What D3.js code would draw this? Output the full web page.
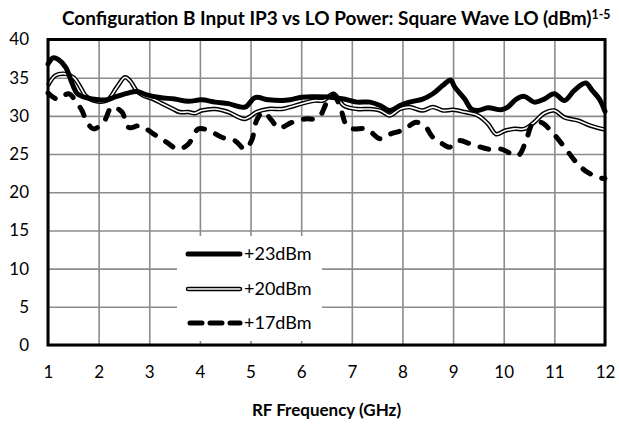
<!DOCTYPE html>
<html><head><meta charset="utf-8">
<script src="https://cdn.jsdelivr.net/npm/d3@7"></script>
<style>
html,body{margin:0;padding:0;background:#fff;}
svg{display:block;}
text{font-family:Lato,"Open Sans",sans-serif;fill:#000;}
</style></head>
<body>
<svg id="chart" width="619" height="424"></svg>
<script>
const titleText = "Configuration B Input IP3 vs LO Power: Square Wave LO (dBm)";
const titleSup = "1-5";
const xTitle = "RF Frequency (GHz)";
const xTicks = [1,2,3,4,5,6,7,8,9,10,11,12];
const yTicks = [0,5,10,15,20,25,30,35,40];
const seriesNames = ["+23dBm","+20dBm","+17dBm"];

const freq23 = [1.0,1.1,1.2,1.35,1.48,1.58,1.77,2.0,2.16,2.29,2.56,2.75,2.95,3.21,3.5,3.77,4.03,4.3,4.56,4.89,5.09,5.35,5.62,5.78,6.01,6.28,6.58,6.84,7.1,7.36,7.56,7.75,7.95,8.14,8.4,8.6,8.8,8.95,9.03,9.23,9.36,9.49,9.69,9.95,10.08,10.25,10.41,10.6,10.8,11.0,11.2,11.39,11.62,11.75,11.89,12.0];
const ip23 = [36.8,37.6,37.4,36.35,34.2,32.9,32.35,32.1,32.1,32.4,32.95,33.2,32.75,32.4,32.2,31.9,32.1,31.8,31.6,31.15,32.4,32.1,32.0,32.1,32.45,32.5,32.45,32.2,31.8,31.8,31.35,30.7,31.35,31.8,32.2,32.9,34.0,34.7,33.8,32.2,30.9,30.7,31.05,30.8,31.15,32.2,32.55,31.8,32.2,32.9,32.0,33.3,34.3,33.3,32.2,30.6];

const freq20 = [1.0,1.15,1.35,1.51,1.64,1.74,1.9,2.16,2.36,2.52,2.62,2.75,2.88,3.08,3.27,3.47,3.6,3.77,3.9,4.03,4.3,4.56,4.89,5.12,5.35,5.62,5.78,6.01,6.28,6.44,6.64,6.84,7.1,7.36,7.56,7.75,7.95,8.14,8.4,8.6,8.8,9.0,9.23,9.49,9.69,9.85,10.02,10.21,10.41,10.6,10.8,11.0,11.2,11.46,11.72,12.0];
const ip20 = [34.0,35.3,35.5,35.0,33.75,32.65,32.0,32.0,33.75,35.05,34.6,33.3,32.65,32.2,31.55,30.9,30.5,30.5,30.35,30.7,30.9,30.5,29.6,30.5,30.9,30.9,31.15,31.6,32.0,32.0,32.9,31.35,30.9,30.9,30.7,30.05,30.9,31.15,30.7,31.15,30.7,30.8,30.5,30.05,28.95,27.6,28.05,28.3,28.3,29.15,30.35,30.7,29.8,29.4,28.7,28.2];

const freq17 = [1.0,1.18,1.41,1.54,1.67,1.77,1.9,2.1,2.26,2.46,2.59,2.82,3.08,3.34,3.57,3.77,3.97,4.17,4.43,4.69,4.89,5.02,5.12,5.25,5.42,5.55,5.82,6.08,6.28,6.38,6.51,6.64,6.77,6.9,7.03,7.29,7.56,7.75,8.01,8.27,8.44,8.6,8.8,8.93,9.1,9.36,9.69,9.95,10.28,10.44,10.57,10.74,10.93,11.2,11.46,11.66,11.89,12.0];
const ip17 = [33.0,32.2,32.9,32.0,30.7,29.2,28.3,29.2,31.15,30.5,28.5,28.7,27.65,26.55,25.65,26.3,28.3,28.1,27.2,26.75,25.65,26.75,29.4,30.5,29.4,28.4,29.15,29.6,29.6,30.05,31.8,32.7,31.15,28.7,28.3,28.3,27.0,27.6,28.15,29.15,28.7,27.2,26.3,25.9,26.75,26.3,25.65,25.65,24.8,26.75,28.95,29.15,28.05,25.9,23.7,22.6,21.9,21.8];

const svg = d3.select("#chart");
const L = 48, R = 605, T = 39.5, B = 345;
const x = d3.scaleLinear().domain([1,12]).range([L,R]);
const y = d3.scaleLinear().domain([0,40]).range([B,T]);

// gridlines
svg.append("g").attr("transform",`translate(0,${B})`)
  .call(d3.axisBottom(x).tickValues(xTicks).tickSize(-(B-T)).tickFormat(""))
  .call(g=>g.select(".domain").remove())
  .call(g=>g.selectAll("line").attr("stroke","#8c8c8c").attr("stroke-width",1.6));
svg.append("g").attr("transform",`translate(${L},0)`)
  .call(d3.axisLeft(y).tickValues(yTicks).tickSize(-(R-L)).tickFormat(""))
  .call(g=>g.select(".domain").remove())
  .call(g=>g.selectAll("line").attr("stroke","#8c8c8c").attr("stroke-width",1.6));

// tick labels
const xAx = svg.append("g").attr("transform",`translate(0,${B})`)
  .call(d3.axisBottom(x).tickValues(xTicks).tickSize(0).tickPadding(21).tickFormat(d3.format("d")));
xAx.select(".domain").remove();
xAx.selectAll("text").attr("font-size",17).attr("font-family","Lato, sans-serif").attr("fill","#000");
const yAx = svg.append("g").attr("transform",`translate(${L},0)`)
  .call(d3.axisLeft(y).tickValues(yTicks).tickSize(0).tickPadding(19).tickFormat(d3.format("d")));
yAx.select(".domain").remove();
yAx.selectAll("text").attr("font-size",17).attr("font-family","Lato, sans-serif").attr("fill","#000");

// series
const line = d3.line().x(d=>x(d[0])).y(d=>y(d[1])).curve(d3.curveCatmullRom.alpha(0.5));
const d23 = d3.zip(freq23, ip23), d20 = d3.zip(freq20, ip20), d17 = d3.zip(freq17, ip17);
const plot = svg.append("g");
plot.append("path").attr("d",line(d20)).attr("fill","none").attr("stroke","#000").attr("stroke-width",4.5).attr("stroke-linejoin","round");
plot.append("path").attr("d",line(d20)).attr("fill","none").attr("stroke","#fff").attr("stroke-width",1.6).attr("stroke-linejoin","round");
plot.append("path").attr("d",line(d23)).attr("fill","none").attr("stroke","#000").attr("stroke-width",5).attr("stroke-linejoin","round").attr("stroke-linecap","round");
plot.append("path").attr("d",line(d17)).attr("fill","none").attr("stroke","#000").attr("stroke-width",5).attr("stroke-dasharray","9,12").attr("stroke-linecap","round");

// frame
svg.append("rect").attr("x",L).attr("y",T).attr("width",R-L).attr("height",B-T)
  .attr("fill","none").attr("stroke","#000").attr("stroke-width",3);

// legend
const lg = svg.append("g");
lg.append("rect").attr("x",177).attr("y",236).attr("width",145).attr("height",105).attr("fill","#fff");
const rows = [254,289,323];
const lx1 = 188, lx2 = 240;
lg.append("line").attr("x1",lx1).attr("x2",lx2).attr("y1",rows[0]).attr("y2",rows[0]).attr("stroke","#000").attr("stroke-width",5).attr("stroke-linecap","round");
lg.append("line").attr("x1",lx1).attr("x2",lx2).attr("y1",rows[1]).attr("y2",rows[1]).attr("stroke","#000").attr("stroke-width",4.5).attr("stroke-linecap","round");
lg.append("line").attr("x1",lx1).attr("x2",lx2).attr("y1",rows[1]).attr("y2",rows[1]).attr("stroke","#fff").attr("stroke-width",1.6).attr("stroke-linecap","round");
lg.append("line").attr("x1",lx1+2).attr("x2",lx2).attr("y1",rows[2]).attr("y2",rows[2]).attr("stroke","#000").attr("stroke-width",5).attr("stroke-dasharray","12,8").attr("stroke-linecap","round");
seriesNames.forEach((n,i)=>{
  lg.append("text").attr("x",244).attr("y",rows[i]).attr("dy","0.36em").attr("font-size",18).text(n);
});

// titles
const t = svg.append("text").attr("x",62).attr("y",25).attr("font-weight","bold").attr("font-size",16)
  .attr("font-family","'Open Sans', sans-serif");
const tMain = t.append("tspan").text(titleText);
const tSup = t.append("tspan").attr("font-size",10.5).attr("dy",-6).text(titleSup);
const w = tMain.node().getComputedTextLength();
const fs = 16 * 530 / w;
t.attr("font-size", fs);
tSup.attr("font-size", fs*0.65);
svg.append("text").attr("x",(L+R)/2).attr("y",416).attr("text-anchor","middle")
  .attr("font-weight","bold").attr("font-size",17).attr("font-family","'Open Sans', sans-serif").text(xTitle);
</script>
</body></html>
